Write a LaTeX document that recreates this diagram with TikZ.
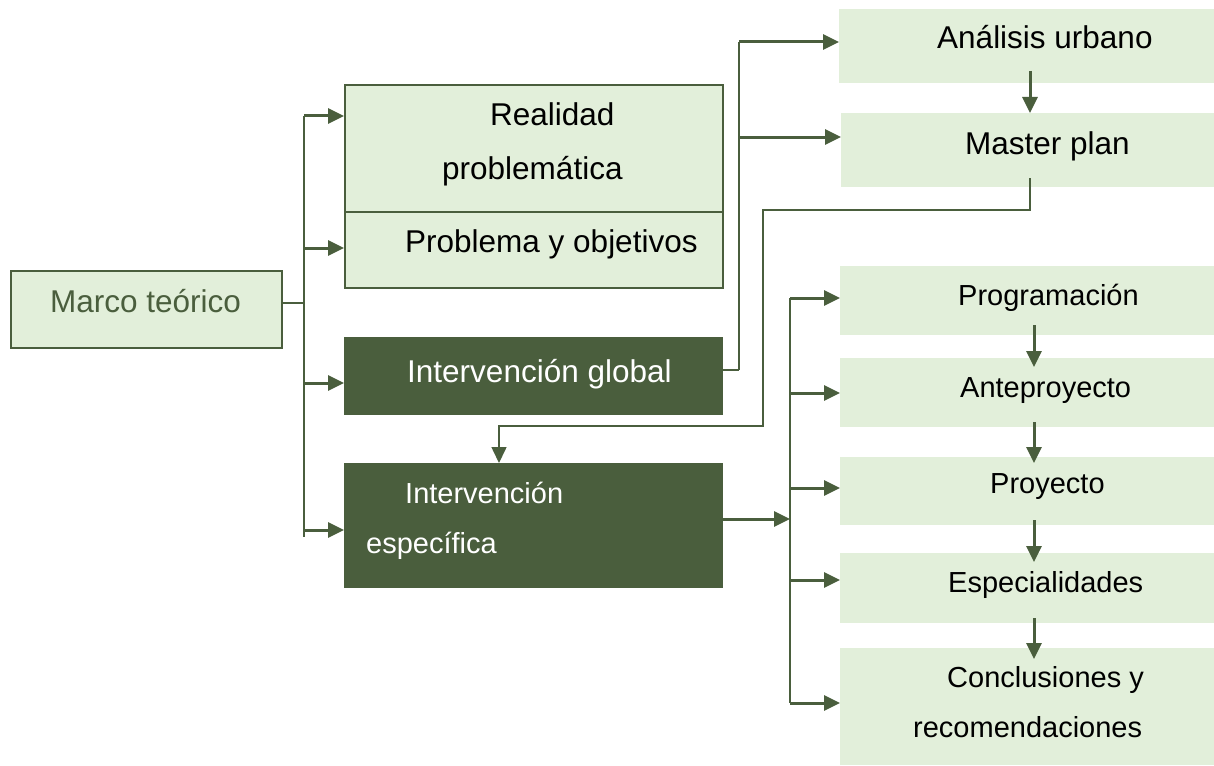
\documentclass[tikz,border=0pt]{standalone}
\usepackage{fontspec}
\setmainfont{Liberation Sans}
\usetikzlibrary{arrows.meta}
\definecolor{dk}{HTML}{4A5E3D}
\definecolor{lt}{HTML}{E2EFDA}
\begin{document}
\begin{tikzpicture}[x=1pt,y=-1pt,
 box/.style={draw=dk, line width=2.4pt, fill=lt, anchor=north west, inner sep=0pt},
 dbox/.style={draw=dk, fill=dk, line width=1pt, anchor=north west, inner sep=0pt},
 pbox/.style={fill=lt, anchor=north west, inner sep=0pt},
 big/.style={font=\fontsize{31.5}{36}\selectfont},
 small/.style={font=\fontsize{29}{34}\selectfont},
 txt/.style={anchor=base west, inner sep=0pt},
 trunk/.style={draw=dk, line width=2.4pt},
 arr/.style={draw=dk, line width=3pt, -{Triangle[length=16pt,width=15pt]}},
 thinl/.style={draw=dk, line width=1.6pt},
 thinarr/.style={draw=dk, line width=1.6pt, -{Triangle[length=16pt,width=15pt]}},
]
\useasboundingbox (0,0) rectangle (1214,765);

% boxes
\node[box, minimum width=271pt, minimum height=77pt] (marco) at (10,270) {};
\node[box, minimum width=378pt, minimum height=127pt] (realidad) at (344,84) {};
\node[box, minimum width=378pt, minimum height=76pt] (problema) at (344,211) {};
\node[dbox, minimum width=378pt, minimum height=77pt] (global) at (344,337) {};
\node[dbox, minimum width=378pt, minimum height=124pt] (espec) at (344,463) {};
\node[pbox, minimum width=375pt, minimum height=74pt] (analisis) at (839,9) {};
\node[pbox, minimum width=373pt, minimum height=74pt] (master) at (841,113) {};
\node[pbox, minimum width=374pt, minimum height=69pt] (prog) at (840,266) {};
\node[pbox, minimum width=374pt, minimum height=69pt] (ante) at (840,358) {};
\node[pbox, minimum width=374pt, minimum height=68pt] (proy) at (840,457) {};
\node[pbox, minimum width=374pt, minimum height=70pt] (esp) at (840,553) {};
\node[pbox, minimum width=374pt, minimum height=117pt] (concl) at (840,648) {};

% texts
\node[txt, big, text=dk] (marcoT) at (50,312) {Marco teórico};
\node[txt, big] (realT1) at (490,125) {Realidad};
\node[txt, big] (realT2) at (442,179) {problemática};
\node[txt, big] (probT) at (405,252) {Problema y objetivos};
\node[txt, big, text=white] (globT) at (407,382) {Intervención global};
\node[txt, small, text=white] (espT1) at (405,503) {Intervención};
\node[txt, small, text=white] (espT2) at (366,553) {específica};
\node[txt, big] (anaT) at (937,49) {Análisis urbano};
\node[txt, big] (masT) at (965,154) {Master plan};
\node[txt, small] (progT) at (958,305) {Programación};
\node[txt, small] (anteT) at (960,397) {Anteproyecto};
\node[txt, small] (proyT) at (990,493) {Proyecto};
\node[txt, small] (espcT) at (948,592) {Especialidades};
\node[txt, small] (conT1) at (947,687) {Conclusiones y};
\node[txt, small] (conT2) at (913,737) {recomendaciones};

% trunk 1
\coordinate (m1) at (304,303);
\coordinate (t1a) at (304,116);
\coordinate (t1b) at (304,248);
\coordinate (t1c) at (304,383);
\coordinate (t1d) at (304,530);
\coordinate (t1e) at (304,537);
\draw[thinl] (marco.east |- m1) -- (m1);
\draw[trunk] (t1a) -- (t1e);
\draw[arr] (t1a) -- (realidad.west |- t1a);
\draw[arr] (t1b) -- (problema.west |- t1b);
\draw[arr] (t1c) -- (global.west |- t1c);
\draw[arr] (t1d) -- (espec.west |- t1d);

% trunk 2
\coordinate (t2a) at (739,42);
\coordinate (t2b) at (739,137);
\coordinate (t2c) at (739,370);
\draw[thinl] (global.east |- t2c) -- (t2c);
\draw[trunk] (t2c) -- (t2a);
\draw[arr] (t2a) -- (analisis.west |- t2a);
\draw[arr] (t2b) -- (master.west |- t2b);

% analysis -> master
\coordinate (va) at (1030,71);
\draw[arr] (va) -- (master.north -| va);

% master plan -> intervencion especifica
\coordinate (mp1) at (1030,178);
\coordinate (mp2) at (1030,210);
\coordinate (mp3) at (763,210);
\coordinate (mp4) at (763,426);
\coordinate (mp5) at (499,426);
\draw[thinarr] (mp1) -- (mp2) -- (mp3) -- (mp4) -- (mp5) -- (espec.north -| mp5);

% trunk 3
\coordinate (t3a) at (790,298);
\coordinate (t3m) at (790,519);
\coordinate (t3z) at (790,703);
\coordinate (t3b) at (790,393);
\coordinate (t3c) at (790,488);
\coordinate (t3d) at (790,580);
\draw[trunk] (t3a) -- (t3z);
\draw[arr] (espec.east |- t3m) -- (t3m);
\draw[arr] (t3a) -- (prog.west |- t3a);
\draw[arr] (t3b) -- (ante.west |- t3b);
\draw[arr] (t3c) -- (proy.west |- t3c);
\draw[arr] (t3d) -- (esp.west |- t3d);
\draw[arr] (t3z) -- (concl.west |- t3z);

% vertical arrows on the right
\coordinate (v1a) at (1034,325); \coordinate (v1b) at (1034,367);
\coordinate (v2a) at (1034,422); \coordinate (v2b) at (1034,463);
\coordinate (v3a) at (1034,520); \coordinate (v3b) at (1034,562);
\coordinate (v4a) at (1034,618); \coordinate (v4b) at (1034,659);
\draw[arr] (v1a) -- (v1b);
\draw[arr] (v2a) -- (v2b);
\draw[arr] (v3a) -- (v3b);
\draw[arr] (v4a) -- (v4b);
\end{tikzpicture}
\end{document}
